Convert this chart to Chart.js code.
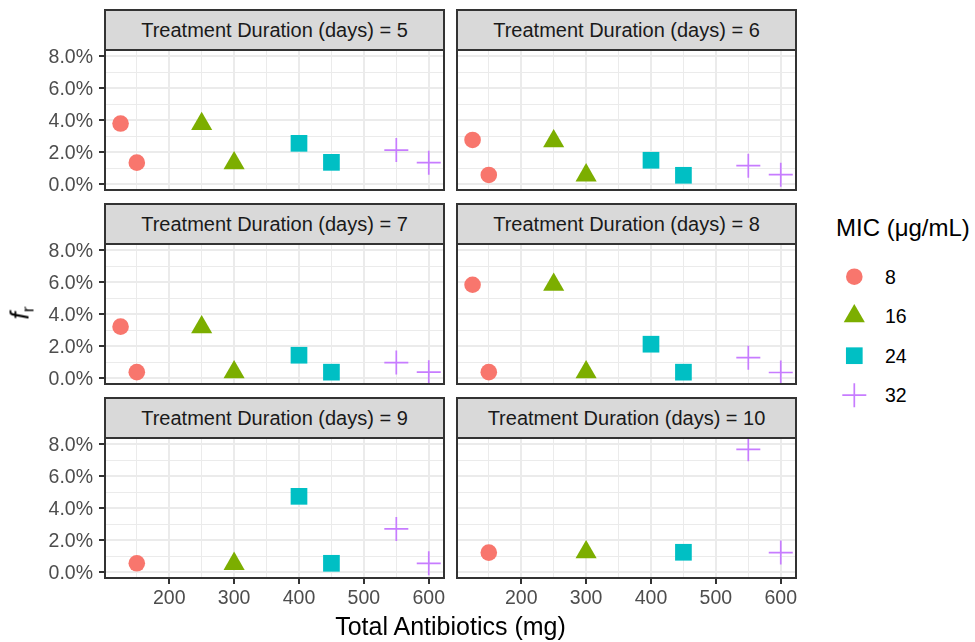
<!DOCTYPE html>
<html>
<head>
<meta charset="utf-8">
<script src="https://cdn.jsdelivr.net/npm/chart.js@4.4.0/dist/chart.umd.min.js"></script>
<style>
  body { margin: 0; background: #fff; font-family: "Liberation Sans", Arial, sans-serif; }
  #wrap { position: relative; width: 975px; height: 642px; overflow: hidden; }
  #wrap canvas { position: absolute; }
  .strip {
    position: absolute; box-sizing: border-box; width: 341px; height: 42px;
    background: #D9D9D9; border: 2px solid #333333; color: #1A1A1A;
    font-size: 20px; line-height: 38px; text-align: center; white-space: nowrap;
  }
  .txt { position: absolute; white-space: nowrap; color: #000; }
</style>
</head>
<body>
<div id="wrap"></div>
<script>
const durations = [5, 6, 7, 8, 9, 10];
const micLevels = ['8', '16', '24', '32'];
const micColors = ['#F8766D', '#7CAE00', '#00BFC4', '#C77CFF'];
const micShapes = ['circle', 'triangle', 'rect', 'cross'];
const micSizes = [8.3, 12.2, 11.8, 12];

// total antibiotics (mg) of the two regimens tested at each MIC
const dose8 = [125, 150];
const dose16 = [250, 300];
const dose24 = [400, 450];
const dose32 = [550, 600];

// f_r, one row per treatment duration, one column per dose (null = not run)
const fr8 = [[0.0380, 0.0135], [0.0277, 0.0058], [0.0323, 0.0038], [0.0585, 0.0038], [null, 0.0056], [null, 0.0123]];
const fr16 = [[0.0378, 0.0132], [0.0269, 0.0056], [0.0319, 0.0038], [0.0585, 0.0038], [null, 0.0053], [null, 0.0126]];
const fr24 = [[0.0256, 0.0137], [0.0150, 0.0056], [0.0144, 0.0038], [0.0213, 0.0038], [0.0475, 0.0056], [null, 0.0125]];
const fr32 = [[0.0214, 0.0135], [0.0116, 0.0060], [0.0098, 0.0038], [0.0129, 0.0036], [0.0271, 0.0056], [0.0769, 0.0123]];

const xMajor = [200, 300, 400, 500, 600];
const xMinor = [150, 250, 350, 450, 550];
const yMajor = [0, 0.02, 0.04, 0.06, 0.08];
const yMinor = [0.01, 0.03, 0.05, 0.07];

const FONT = '"Liberation Sans", Arial, sans-serif';
const PW = 339, PH = 140, M = 12;
const colLeft = [105, 457];
const rowTop = [50, 244, 438];
const wrap = document.getElementById('wrap');

// dark frame round each panel, drawn over the points like ggplot does
const panelBox = {
  id: 'panelBox',
  afterDraw(chart) {
    const { ctx, chartArea: a } = chart;
    ctx.save();
    ctx.strokeStyle = '#333333';
    ctx.lineWidth = 2;
    ctx.strokeRect(a.left, a.top, a.right - a.left, a.bottom - a.top);
    ctx.restore();
  }
};

function mergedTicks(major, minor) {
  return major.map(v => ({ value: v, minor: false }))
    .concat(minor.map(v => ({ value: v, minor: true })))
    .sort((a, b) => a.value - b.value);
}

function gridOpts(showTicks) {
  return {
    color: '#EBEBEB',
    lineWidth: c => (c.tick && c.tick.minor ? 1 : 2),
    drawTicks: showTicks,
    tickLength: 6,
    tickWidth: 2,
    tickColor: c => (c.tick && c.tick.minor ? 'rgba(0,0,0,0)' : '#333333')
  };
}

function makePanel(i) {
  const col = i % 2, row = Math.floor(i / 2);
  const leftAxis = col === 0, bottomAxis = row === 2;
  const axW = leftAxis ? 105 : M;
  const axH = bottomAxis ? 42 : M;

  const canvas = document.createElement('canvas');
  canvas.width = axW + PW + M;
  canvas.height = M + PH + axH;
  canvas.style.left = (colLeft[col] - axW) + 'px';
  canvas.style.top = (rowTop[row] - M) + 'px';
  wrap.appendChild(canvas);

  const doses = [dose8, dose16, dose24, dose32];
  const frs = [fr8, fr16, fr24, fr32];
  const datasets = micLevels.map((mic, k) => ({
    label: mic,
    data: doses[k].map((d, j) => ({ x: d, y: frs[k][i][j] })).filter(p => p.y !== null),
    pointStyle: micShapes[k],
    pointRadius: micSizes[k],
    pointBackgroundColor: micColors[k],
    pointBorderColor: micColors[k],
    pointBorderWidth: micShapes[k] === 'cross' ? 1.7 : 0,
    clip: false
  }));

  new Chart(canvas, {
    type: 'scatter',
    data: { datasets },
    plugins: [panelBox],
    options: {
      responsive: false,
      animation: false,
      events: [],
      layout: { padding: { top: M, right: M, left: 0, bottom: 0 }, autoPadding: false },
      plugins: { legend: { display: false }, tooltip: { enabled: false } },
      scales: {
        x: {
          type: 'linear', min: 101, max: 623.5,
          afterBuildTicks: s => { s.ticks = mergedTicks(xMajor, xMinor); },
          afterFit: s => { s.height = axH; s.paddingLeft = 0; s.paddingRight = 0; },
          border: { display: false },
          grid: gridOpts(bottomAxis),
          ticks: {
            display: bottomAxis, padding: 3, maxRotation: 0, autoSkip: false,
            color: '#4D4D4D', font: { family: FONT, size: 19.5 },
            callback: (v, idx, ticks) => (ticks[idx].minor ? '' : String(v))
          }
        },
        y: {
          type: 'linear', min: -0.0036, max: 0.084,
          afterBuildTicks: s => { s.ticks = mergedTicks(yMajor, yMinor); },
          afterFit: s => { s.width = axW; s.paddingTop = 0; s.paddingBottom = 0; },
          border: { display: false },
          grid: gridOpts(leftAxis),
          ticks: {
            display: leftAxis, padding: 6, autoSkip: false, labelOffset: 1,
            color: '#4D4D4D', font: { family: FONT, size: 19.5 },
            callback: (v, idx, ticks) => (ticks[idx].minor ? '' : (v * 100).toFixed(1) + '%')
          }
        }
      }
    }
  });

  const strip = document.createElement('div');
  strip.className = 'strip';
  strip.style.left = (colLeft[col] - 1) + 'px';
  strip.style.top = (rowTop[row] - 41) + 'px';
  strip.textContent = 'Treatment Duration (days) = ' + durations[i];
  wrap.appendChild(strip);
}

durations.forEach((d, i) => makePanel(i));

function addText(html, css) {
  const el = document.createElement('div');
  el.className = 'txt';
  el.innerHTML = html;
  Object.assign(el.style, css);
  wrap.appendChild(el);
  return el;
}

// axis titles
addText('Total Antibiotics (mg)', {
  left: '105px', width: '691px', textAlign: 'center', top: '614px',
  fontSize: '25px', lineHeight: '25px'
});
addText('<i>f</i><sub style="font-size:17px;vertical-align:-5px">r</sub>', {
  left: '24px', top: '313px', fontSize: '26px', lineHeight: '26px',
  transform: 'translate(-50%,-50%) rotate(-90deg)'
});

// legend
addText('MIC (\u03BCg/mL)', { left: '836px', top: '216px', fontSize: '24px', lineHeight: '24px' });
const keyCanvas = document.createElement('canvas');
keyCanvas.width = 50;
keyCanvas.height = 170;
keyCanvas.style.left = '829px';
keyCanvas.style.top = '256px';
wrap.appendChild(keyCanvas);
const kctx = keyCanvas.getContext('2d');
micLevels.forEach((mic, k) => {
  const cy = 20.7 + k * 39.5;
  kctx.save();
  kctx.fillStyle = micColors[k];
  kctx.strokeStyle = micColors[k];
  kctx.lineWidth = 1.7;
  Chart.helpers.drawPoint(kctx, {
    pointStyle: micShapes[k], radius: micSizes[k], rotation: 0,
    borderWidth: micShapes[k] === 'cross' ? 1.7 : 0
  }, 25.3, cy);
  kctx.restore();
  addText(mic, {
    left: '885px', top: (256 + cy - 12) + 'px', fontSize: '19.5px', lineHeight: '24px'
  });
});
</script>
</body>
</html>
